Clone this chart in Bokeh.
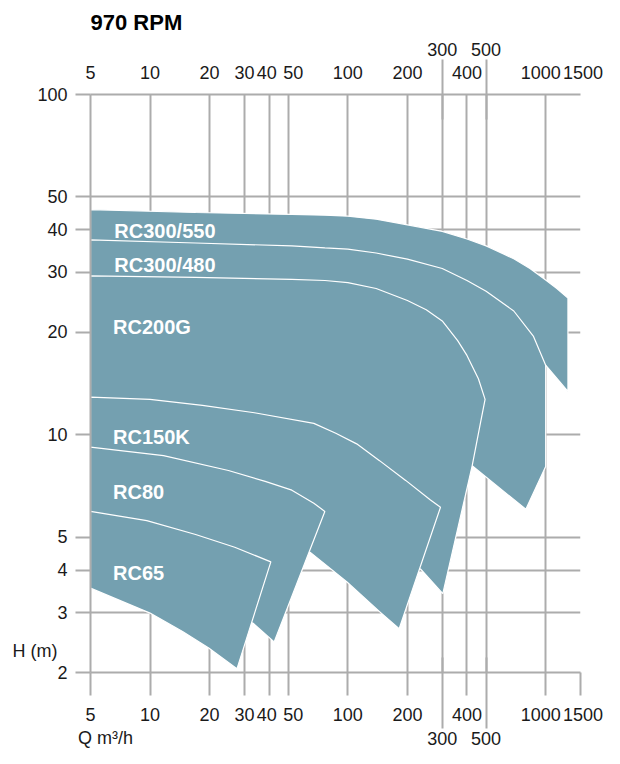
from bokeh.plotting import figure
from bokeh.models import LogAxis, FixedTicker, Range1d, Grid
from bokeh.core.properties import value
from bokeh.embed import file_html
from bokeh.resources import INLINE

# ---------------- data ----------------
x_ticks = [5, 10, 20, 30, 40, 50, 100, 200, 300, 400, 500, 1000, 1500]
x_tick_labels = ["5", "10", "20", "30", "40\u00a0", "\u00a0\u00a050", "100", "200", "300", "400",
                 "500", "1000\u00a0\u00a0", "\u00a01500"]
x_ticks_long = [300, 500]
y_ticks = [2, 3, 4, 5, 10, 20, 30, 40, 50, 100]
y_tick_labels = ["2", "3", "4", "5", "10", "20", "30", "40", "50", "100"]
y_title = "H (m)"
y_title_at = 2.32
x_title = "Q m³/h"

# pump curve envelopes (Q m3/h, H m), outline points
rc300_550_q = [5, 17, 52.1, 76.6, 100, 139, 200, 300, 400, 500, 690, 833, 1000, 1139, 1296,
               1296, 1000, 5]
rc300_550_h = [45.9, 45.0, 44.4, 44.2, 43.9, 43.0, 41.4, 39.6, 37.6, 35.9, 32.9, 30.8, 28.5, 26.9, 25.2,
               13.4, 16.0, 14]

rc300_480_q = [5, 17, 52.1, 76.6, 100, 139, 200, 300, 400, 500, 690, 866, 1000,
               1000, 794, 425, 5]
rc300_480_h = [37.4, 36.6, 35.9, 35.4, 35.1, 34.2, 32.8, 30.8, 28.4, 26.4, 23.1, 19.5, 16.0,
               8.06, 6.04, 8.1, 10]

rc200g_q = [5, 17, 52.1, 76.6, 100, 139, 200, 249, 300, 359, 400, 457, 494,
            470, 425, 302, 233, 5]
rc200g_h = [29.3, 29.0, 28.6, 28.4, 28.0, 26.9, 24.8, 23.3, 21.6, 18.9, 17.1, 14.6, 12.7,
            10.96, 8.1, 3.41, 4.03, 8]

rc150k_q = [5, 10, 18.4, 33.7, 67.3, 86.9, 110.8, 144.6, 196, 261.6, 294, 181.7, 144.6, 99, 64.6, 5]
rc150k_h = [12.9, 12.7, 12.2, 11.6, 10.8, 10.1, 9.4, 8.39, 7.34, 6.43, 6.12, 2.69, 3.02, 3.69, 4.51, 6]

rc80_q = [5, 11.7, 24.9, 38.2, 52.1, 67.3, 76.5, 42.4, 33.2, 5]
rc80_h = [9.19, 8.68, 7.85, 7.29, 6.87, 6.29, 5.95, 2.46, 2.79, 4.5]

rc65_q = [5, 9.63, 17.0, 26.8, 40.8, 27.5, 19.8, 14.6, 10, 5]
rc65_h = [5.95, 5.59, 5.09, 4.67, 4.23, 2.05, 2.36, 2.64, 2.99, 3.54]

names = ["RC300/550", "RC300/480", "RC200G", "RC150K", "RC80", "RC65"]
label_q = [6.6, 6.6, 6.5, 6.5, 6.5, 6.5]
label_h = [39.6, 31.5, 20.7, 9.85, 6.79, 3.93]

shapes_q = [rc300_550_q, rc300_480_q, rc200g_q, rc150k_q, rc80_q, rc65_q]
shapes_h = [rc300_550_h, rc300_480_h, rc200g_h, rc150k_h, rc80_h, rc65_h]

# ---------------- style ----------------
GRID = "#acacac"
FILL = "#74a0b0"
FONT = "Liberation Sans"
TXT = "#1a1a1a"
LBL = "18px"

p = figure(x_axis_type="log", y_axis_type="log",
           x_range=Range1d(5, 1500), y_range=Range1d(2, 100),
           frame_width=490, frame_height=578,
           min_border_left=90, min_border_right=24,
           min_border_top=94, min_border_bottom=76,
           x_axis_location=None, y_axis_location=None,
           output_backend="svg", toolbar_location=None,
           title="970 RPM")
p.outline_line_color = None
p.background_fill_color = "white"
p.border_fill_color = "white"

# grids
p.center = [r for r in p.center if not isinstance(r, Grid)]
p.add_layout(Grid(dimension=0, ticker=FixedTicker(ticks=x_ticks),
                  grid_line_color=GRID, grid_line_width=2))
p.add_layout(Grid(dimension=1, ticker=FixedTicker(ticks=y_ticks),
                  grid_line_color=GRID, grid_line_width=2))

x_lab = dict(zip(x_ticks, x_tick_labels))
y_lab = dict(zip(y_ticks, y_tick_labels))


def make_axis(ticks, labels, **kw):
    ax = LogAxis(ticker=FixedTicker(ticks=ticks),
                 major_label_overrides={t: labels[t] for t in ticks},
                 axis_line_color=GRID, axis_line_width=2,
                 major_tick_line_color=GRID, major_tick_line_width=2,
                 minor_tick_line_color=None, minor_tick_in=0, minor_tick_out=0,
                 major_label_text_font=FONT, major_label_text_font_size=LBL,
                 major_label_text_color=TXT)
    for k, v in kw.items():
        setattr(ax, k, v)
    return ax


x_short = [t for t in x_ticks if t not in x_ticks_long]

# left: tick marks next to the frame, numbers (and the H title) one step further out
left_ticks = make_axis(y_ticks, {t: "" for t in y_ticks}, major_tick_out=15, major_tick_in=0,
                       major_label_standoff=0)
left_lab_map = dict(y_lab)
left_lab_map[y_title_at] = y_title + "\u00a0\u00a0"
left_labels = make_axis(y_ticks + [y_title_at], left_lab_map, axis_line_color=None,
                        major_tick_line_color=None, major_tick_out=0, major_tick_in=0,
                        major_label_standoff=8)
p.add_layout(left_ticks, "left")
p.add_layout(left_labels, "left")

below1 = make_axis(x_short, x_lab, major_tick_out=23, major_tick_in=0, major_label_standoff=9)
below2 = make_axis(x_ticks_long, x_lab, axis_line_color=None, major_tick_out=1,
                   major_tick_in=70, major_label_standoff=3,
                   axis_label="\u00a0" * 6 + x_title, axis_label_align="start",
                   axis_label_standoff=-20,
                   axis_label_text_font=FONT, axis_label_text_font_size=LBL,
                   axis_label_text_font_style="normal", axis_label_text_color=TXT)
p.add_layout(below1, "below")
p.add_layout(below2, "below")

above1 = make_axis(x_short, x_lab, major_tick_out=0, major_tick_in=0,
                   major_tick_line_color=None, major_label_standoff=12)
above2 = make_axis(x_ticks_long, x_lab, axis_line_color=None, major_tick_out=0,
                   major_tick_in=60, major_label_standoff=4)
p.add_layout(above1, "above")
p.add_layout(above2, "above")

p.title.text_font = FONT
p.title.text_font_size = "22px"
p.title.text_font_style = "bold"
p.title.text_color = "black"
p.title.align = "left"
p.title.standoff = 10

# envelopes, back to front
p.patches(xs=shapes_q, ys=shapes_h, fill_color=FILL, line_color="white", line_width=1.2)

p.text(x=label_q, y=label_h, text=names, text_color="white",
       text_font=value(FONT), text_font_style="bold", text_font_size="20px",
       text_baseline="alphabetic", text_align="left")

open("out.html", "w").write(file_html(p, INLINE))
